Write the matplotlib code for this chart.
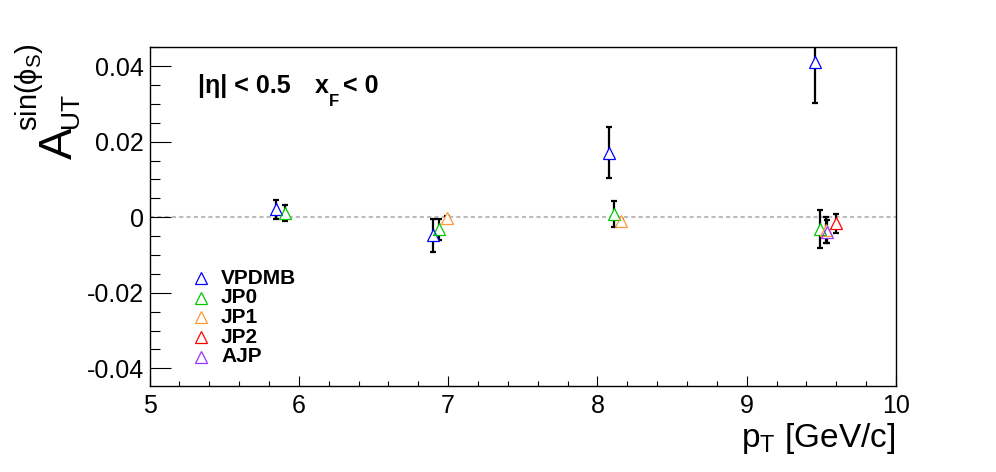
import numpy as np
import matplotlib
matplotlib.use('Agg')
import matplotlib.pyplot as plt
from matplotlib.lines import Line2D

plt.rcParams['font.family'] = ['Liberation Sans', 'DejaVu Sans']
plt.rcParams['mathtext.fontset'] = 'custom'
plt.rcParams['mathtext.rm'] = 'Liberation Sans'
plt.rcParams['mathtext.it'] = 'Liberation Sans'
plt.rcParams['mathtext.bf'] = 'Liberation Sans:bold'

# data (nan = no point shown)
names = ["VPDMB", "JP0", "JP1", "JP2", "AJP"]
colors = ["#0000ff", "#00c800", "#ff9933", "#ff0000", "#9933ff"]
pt_vpdmb = [5.85, 6.90, 8.08, 9.46]
pt_jp0 = [5.905, 6.94, 8.11, 9.49]
pt_jp1 = [5.95, 6.995, 8.16, 9.53]
pt_jp2 = [5.99, 7.04, 8.20, 9.60]
pt_ajp = [5.97, 7.02, 8.18, 9.535]
a_vpdmb = [0.0021, -0.0048, 0.0171, 0.0411]
a_jp0 = [0.0011, -0.0032, 0.0009, -0.0031]
a_jp1 = [np.nan, -0.0001, -0.0009, -0.0034]
a_jp2 = [np.nan, np.nan, np.nan, -0.0016]
a_ajp = [np.nan, np.nan, np.nan, -0.0038]
e_vpdmb = [0.0026, 0.0044, 0.0068, 0.0109]
e_jp0 = [0.0021, 0.0028, 0.0034, 0.0051]
e_jp1 = [np.nan, 0.0004, 0.0004, 0.0035]
e_jp2 = [np.nan, np.nan, np.nan, 0.0025]
e_ajp = [np.nan, np.nan, np.nan, 0.0030]

xs = [pt_vpdmb, pt_jp0, pt_jp1, pt_jp2, pt_ajp]
ys = [a_vpdmb, a_jp0, a_jp1, a_jp2, a_ajp]
es = [e_vpdmb, e_jp0, e_jp1, e_jp2, e_ajp]

W, H = 996, 472
fig = plt.figure(figsize=(W / 100, H / 100), dpi=100)
ax = fig.add_axes([149.5 / W, 1 - 385.7 / H, (896 - 149.5) / W, (385.7 - 47.3) / H])

ax.axhline(0, color='#bbbbbb', lw=1.5, ls=(0, (2, 1.5)), zorder=1)

# error bars, then mask them under the markers, then hollow triangles
for x, y, e in zip(xs, ys, es):
    ax.errorbar(x, y, yerr=e, fmt='none', ecolor='black', elinewidth=1.6,
                capsize=2, capthick=1.6, zorder=2)
for x, y in zip(xs, ys):
    ax.plot(x, y, ls='none', marker='^', ms=8.5, mfc='white', mec='none', zorder=3)
for x, y, c in zip(xs, ys, colors):
    ax.plot(x, y, ls='none', marker='^', ms=8.5, mfc='none', mec=c, mew=0.9, zorder=4)

ax.set_xlim(5, 10)
ax.set_ylim(-0.0446, 0.045)
ax.set_xticks([5, 6, 7, 8, 9, 10])
ax.set_xticks(np.arange(5, 10.01, 0.2), minor=True)
ax.set_yticks([-0.04, -0.02, 0, 0.02, 0.04])
ax.set_yticklabels(['-0.04', '-0.02', '0', '0.02', '0.04'])
ax.set_yticks(np.arange(-0.04, 0.0451, 0.005), minor=True)
ax.tick_params(axis='both', which='both', direction='in', labelsize=18, width=0.8)
ax.tick_params(axis='y', which='major', length=15, pad=4)
ax.tick_params(axis='y', which='minor', length=7.5)
ax.tick_params(axis='x', which='major', length=7, pad=6)
ax.tick_params(axis='x', which='minor', length=3.6)
for s in ax.spines.values():
    s.set_linewidth(1.0)

def px(x, y):
    return x / W, 1 - y / H

# axis titles
fig.text(*px(895, 447), r'p$_\mathrm{T}$ [GeV/c]', fontsize=24, ha='right', va='baseline')
fig.text(*px(72, 143), 'A', fontsize=34, rotation=90, rotation_mode='anchor',
         ha='center', va='baseline')
fig.text(*px(78, 128), 'UT', fontsize=19, rotation=90, rotation_mode='anchor',
         ha='left', va='baseline')
fig.text(*px(37, 131), r'sin($\phi_{\mathrm{S}}$)', fontsize=21, rotation=90,
         rotation_mode='anchor', ha='left', va='baseline')

# cut label
fig.text(*px(198, 93), '|η| < 0.5', fontsize=18, fontweight='bold', va='baseline')
fig.text(*px(315, 93), 'x', fontsize=18, fontweight='bold', va='baseline')
fig.text(*px(329, 106), 'F', fontsize=12, fontweight='bold', va='baseline')
fig.text(*px(343, 93), '< 0', fontsize=18, fontweight='bold', va='baseline')

# legend
for i, (n, c) in enumerate(zip(names, colors)):
    yy = 278 + 19.7 * i
    fig.add_artist(Line2D([201 / W], [1 - yy / H], transform=fig.transFigure, ls='none',
                          marker='^', ms=9, mfc='none', mec=c, mew=0.9))
    fig.text(*px(221, yy), n, fontsize=15, fontweight='bold', va='center')

fig.savefig('out.png', dpi=100)
